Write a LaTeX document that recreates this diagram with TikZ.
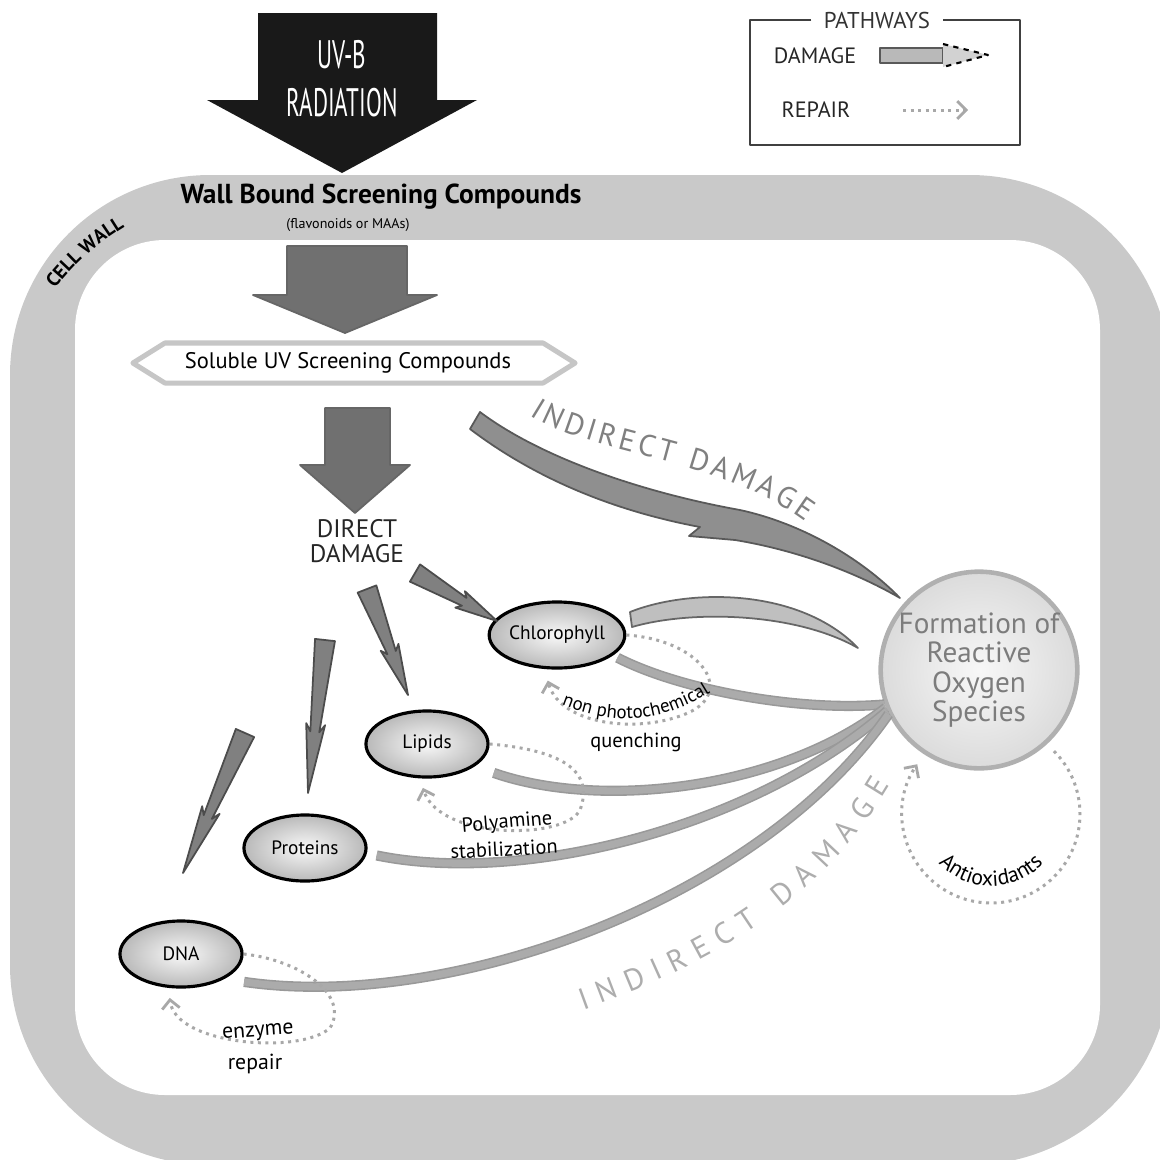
\documentclass[tikz,border=0pt]{standalone}
\usepackage{fontspec}
\setmainfont{PT Sans}
\usepackage{tikz}
\usetikzlibrary{positioning}
\usetikzlibrary{shapes,arrows,calc,arrows.meta,decorations.text}

\definecolor{wallgray}{HTML}{C9C9C9}
\definecolor{blockgray}{HTML}{707070}
\definecolor{dmggray}{HTML}{808080}
\definecolor{bigdmg}{HTML}{8F8F8F}
\definecolor{linegray}{HTML}{ABABAB}
\definecolor{dotgray}{HTML}{A8A8A8}
\definecolor{rostext}{HTML}{7C7C7C}

% tapered damage arrow from #1 to #2
\newcommand{\dmgarrow}[2]{%
  \filldraw [skinny] ($(#1)!0.1cm!90:(#2)$) -- ($(#1)!0.6!(#2)!0.045cm!90:(#2)$)
    -- ($(#1)!0.55!(#2)!0.095cm!90:(#2)$) -- (#2)
    -- ($(#1)!0.55!(#2)!0.095cm!-90:(#2)$) -- ($(#1)!0.6!(#2)!0.045cm!-90:(#2)$)
    -- ($(#1)!0.1cm!-90:(#2)$) -- cycle;}

\begin{document}
\begin{tikzpicture}[x=0.01cm, y=0.01cm, line join=round,
    mol/.style={ellipse, draw=black, line width=0.9pt, inner color=gray!5, outer color=gray!55,
      minimum width=1.22cm, minimum height=0.66cm, inner sep=0pt, font=\fontsize{5.5}{6}\selectfont},
    skinny/.style={fill=dmggray, draw=black!70, line width=0.5pt},
    block/.style={fill=blockgray, draw=black!60, line width=0.5pt},
    rosline/.style={draw=black!40, double=linegray, line width=0.45pt, double distance=2pt},
    repair/.style={draw=dotgray, line width=0.85pt, dash pattern=on 0.85pt off 1.3pt,
      -{Straight Barb[length=2.5pt, width=5pt, line width=0.8pt]}},
    note/.style={font=\fontsize{5.8}{6}\selectfont, inner sep=0pt}]
  \useasboundingbox (0,0) rectangle (1160,-1160);

  % Cell wall
  \begin{scope}
    \clip (0,0) rectangle (1160,-1160);
    \fill [wallgray, rounded corners=2cm] (10,-175) rectangle (1170,-1165);
    \fill [white, rounded corners=0.9cm] (75,-240) rectangle (1100,-1095);
  \end{scope}
  \path [decorate, decoration={text along path, text align=center,
      text={|\bfseries\fontsize{5.5}{6}\selectfont|CELL WALL}}]
    (44,-303) to [bend left=12] (140,-218);

  % Legend
  \node [font=\fontsize{6.5}{7}\selectfont, text=black!80] (pathways) at (877,-20) {PATHWAYS};
  \draw [black!75, line width=0.6pt] (pathways.west) -- (750,-20) -- (750,-145)
    -- (1020,-145) -- (1020,-20) -- (pathways.east);
  \node [font=\fontsize{6.3}{7}\selectfont, text=black!85] (dmgkey) at (815,-56) {DAMAGE};
  \node [font=\fontsize{6.3}{7}\selectfont, text=black!85] (repkey) at (816,-110) {REPAIR};
  \filldraw [fill=gray!55, draw=black!65, line width=0.5pt] (880,-48) rectangle (943,-63);
  \filldraw [fill=gray!35, draw=black, line width=0.6pt, dash pattern=on 1.5pt off 1.5pt]
    (943,-44) -- (988,-55) -- (943,-67);
  \draw [repair] (903,-110) -- (968,-110);

  % UV-B radiation
  \fill [black!90] (258,-13) -- (437,-13) -- (437,-100) -- (477,-100) -- (342,-173)
    -- (207,-100) -- (258,-100) -- cycle;
  \node [text=white, font=\fontsize{11.3}{12}\selectfont] (uvb) at (342,-55) {\scalebox{0.58}[1]{UV-B}};
  \node [text=white, font=\fontsize{11.3}{12}\selectfont] (rad) at (342,-103) {\scalebox{0.58}[1]{RADIATION}};

  % Screening compounds
  \node [font=\bfseries\fontsize{7.8}{8}\selectfont, inner sep=1pt] (wall) at (381,-197)
    {Wall Bound Screening Compounds};
  \node [font=\fontsize{4}{4.5}\selectfont, inner sep=0.5pt, below=0.5pt of wall, xshift=-0.33cm]
    (wallsub) {(flavonoids or MAAs)};
  \filldraw [block] (287,-246) -- (407,-246) -- (407,-295) -- (437,-295) -- (345,-333)
    -- (253,-295) -- (287,-295) -- cycle;
  \node [signal, signal to=west and east, signal pointer angle=64, draw=gray!45,
    line width=0.05cm, fill=white, minimum width=4.42cm, minimum height=0.4cm, inner sep=0pt,
    font=\fontsize{6.4}{7}\selectfont] (soluble) at (354,-363) {\hspace*{-0.12cm}Soluble UV Screening Compounds};
  \filldraw [block] (325,-408) -- (390,-408) -- (390,-465) -- (410,-465) -- (355,-513)
    -- (300,-465) -- (325,-465) -- cycle;
  \node [align=center, font=\fontsize{7.2}{6.9}\selectfont, text=black!85] (dd) at (357,-541)
    {DIRECT\\DAMAGE};

  % Reactive oxygen species
  \node [circle, draw=gray!62, line width=1.3pt, inner color=gray!6, outer color=gray!28,
    minimum size=1.93cm, text=rostext, align=center, inner sep=0pt,
    font=\fontsize{8.3}{8.3}\selectfont] (ros) at (979,-670) {Formation of\\Reactive\\Oxygen\\Species};

  % Indirect damage
  \filldraw [fill=bigdmg, draw=black!65, line width=0.5pt]
    (480,-412) .. controls (540,-457) and (640,-492) .. (740,-510)
    .. controls (800,-523) and (860,-557) .. (900,-598)
    .. controls (850,-569) and (790,-549) .. (735,-540) -- (689,-536) -- (700,-527)
    .. controls (620,-512) and (540,-482) .. (470,-429) -- cycle;
  \path [decorate, decoration={text along path, text align=fit to path, text color=black!50,
      text={|\fontsize{8.6}{9}\selectfont|INDIRECT DAMAGE}}]
    (530,-415) .. controls (592,-456) and (718,-456) .. (806,-522);
  \path [decorate, decoration={text along path, text align=fit to path, text color=black!32,
      text={|\fontsize{8.6}{9}\selectfont|INDIRECT DAMAGE}}]
    (583,-1010) .. controls (680,-975) and (810,-920) .. (890,-785);

  % Molecules
  \node [mol] (chl) at (557,-635) {Chlorophyll};
  \node [mol] (lip) at (427,-744) {Lipids};
  \node [mol] (pro) at (305,-848) {Proteins};
  \node [mol] (dna) at (181,-954) {DNA};

  % Lines to ROS
  \draw [rosline, shorten <=0.05cm] (chl.-20) .. controls (680,-690) and (800,-712) .. (ros.200);
  \draw [rosline, shorten <=0.2cm] (lip.-25) .. controls (600,-810) and (780,-790) .. (ros.202);
  \draw [rosline, shorten <=0.1cm] (pro.-5) .. controls (520,-885) and (750,-830) .. (ros.204);
  \draw [rosline, shorten <=0.2cm] (dna.-30) .. controls (450,-1012) and (760,-900) .. (ros.206);
  \filldraw [fill=gray!50, draw=black!60, line width=0.5pt]
    (630,-612) .. controls (690,-588) and (800,-588) .. (858,-648)
    .. controls (795,-612) and (690,-610) .. (632,-627) -- cycle;

  % Direct damage
  \coordinate (d1) at (415,-573); \coordinate (t1) at (497,-621);
  \coordinate (d2) at (367,-589); \coordinate (t2) at (408,-695);
  \coordinate (d3) at (325,-640); \coordinate (t3) at (308,-793);
  \coordinate (d4) at (245,-733); \coordinate (t4) at (183,-873);
  \dmgarrow{d1}{t1}
  \dmgarrow{d2}{t2}
  \dmgarrow{d3}{t3}
  \dmgarrow{d4}{t4}

  % Repair
  \draw [repair, shorten >=0.12cm] (chl.east) .. controls (700,-640) and (735,-690) .. (690,-712)
    .. controls (640,-735) and (560,-725) .. (chl.250);
  \path [decorate, decoration={text along path, text align=center,
      text={|\fontsize{5.4}{6}\selectfont|non photochemical}}]
    (558,-703) to [bend right=28] (714,-690);
  \node [note] (quench) at (636,-742) {quenching};
  \draw [repair, shorten >=0.1cm] (lip.east) .. controls (560,-750) and (595,-770) .. (580,-810)
    .. controls (565,-840) and (440,-840) .. (lip.258);
  \node [note, rotate=5] (poly) at (507,-823) {Polyamine};
  \node [note, rotate=3] (stab) at (504,-849) {stabilization};
  \draw [repair, shorten >=0.1cm] (dna.east) .. controls (300,-960) and (350,-995) .. (330,-1028)
    .. controls (300,-1055) and (175,-1045) .. (dna.250);
  \node [note, font=\fontsize{6.2}{6.5}\selectfont, rotate=4] (enz) at (258,-1033) {enzyme};
  \node [note, font=\fontsize{6.2}{6.5}\selectfont] (rep) at (255,-1064) {repair};
  \coordinate (anti) at (991,-814);
  \draw [repair] (anti) ++(45:89) arc [start angle=45, end angle=-214, radius=89];
  \path [decorate, decoration={text along path, text align=center,
      text={|\fontsize{6.2}{6.5}\selectfont|Antioxidants}}]
    (anti) ++(212:72) arc [start angle=212, end angle=328, radius=72];
\end{tikzpicture}
\end{document}
